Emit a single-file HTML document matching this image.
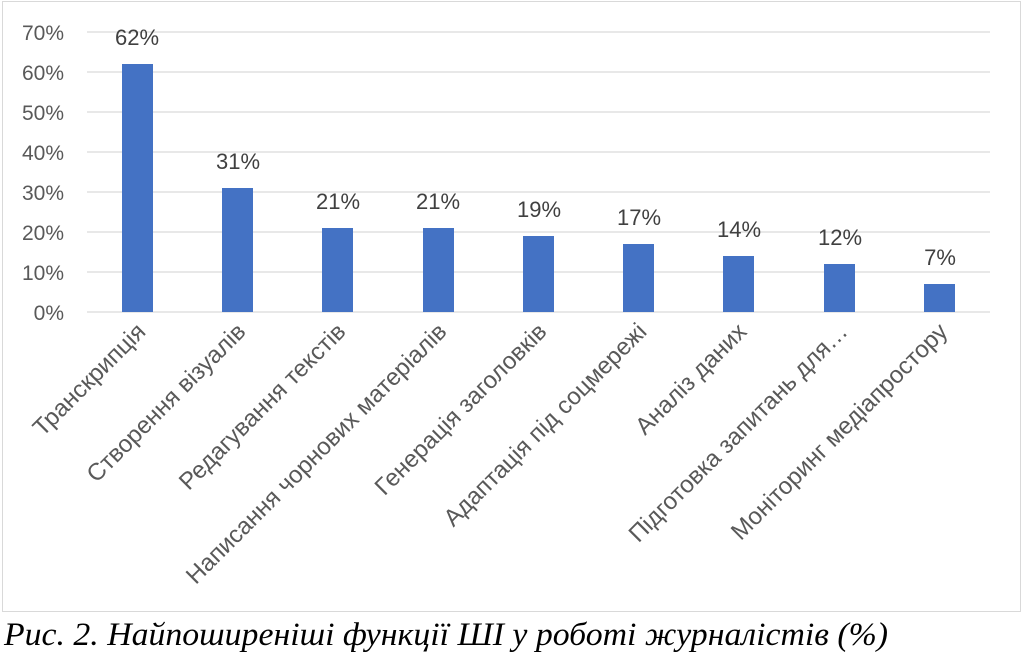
<!DOCTYPE html>
<html><head><meta charset="utf-8"><style>
html,body{margin:0;padding:0;background:#fff;width:1025px;height:656px;overflow:hidden}
</style></head><body>
<svg width="1025" height="656" xmlns="http://www.w3.org/2000/svg" style="display:block">
<rect x="2.5" y="1.5" width="1018" height="610" fill="#fff" stroke="#d9d9d9" stroke-width="1"/>
<g stroke="#d9d9d9" stroke-width="1.3">
<line x1="87" x2="990" y1="32" y2="32"/><line x1="87" x2="990" y1="72" y2="72"/>
<line x1="87" x2="990" y1="112" y2="112"/><line x1="87" x2="990" y1="152" y2="152"/>
<line x1="87" x2="990" y1="192" y2="192"/><line x1="87" x2="990" y1="232" y2="232"/>
<line x1="87" x2="990" y1="272" y2="272"/><line x1="87" x2="990" y1="312" y2="312"/>
</g>
<g font-family="Liberation Sans, DejaVu Sans, sans-serif" font-size="21" fill="#595959" text-anchor="end">
<text x="64" y="40">70%</text><text x="64" y="80">60%</text><text x="64" y="120">50%</text>
<text x="64" y="160">40%</text><text x="64" y="200">30%</text><text x="64" y="240">20%</text>
<text x="64" y="280">10%</text><text x="64" y="320">0%</text>
</g>
<g fill="#4472c4">
<rect x="122" y="64" width="31" height="248"/>
<rect x="222" y="188" width="31" height="124"/>
<rect x="322" y="228" width="31" height="84"/>
<rect x="423" y="228" width="31" height="84"/>
<rect x="523" y="236" width="31" height="76"/>
<rect x="623" y="244" width="31" height="68"/>
<rect x="723" y="256" width="31" height="56"/>
<rect x="824" y="264" width="31" height="48"/>
<rect x="924" y="284" width="31" height="28"/>
</g>
<g font-family="Liberation Sans, DejaVu Sans, sans-serif" font-size="22" fill="#404040" text-anchor="middle">
<text x="137" y="45">62%</text><text x="238" y="169">31%</text><text x="338" y="209">21%</text>
<text x="438" y="209">21%</text><text x="539" y="217">19%</text><text x="639" y="225">17%</text>
<text x="739" y="237">14%</text><text x="840" y="245">12%</text><text x="940" y="265">7%</text>
</g>
<g font-family="Liberation Sans, DejaVu Sans, sans-serif" font-size="24" fill="#595959" text-anchor="end">
<text transform="translate(147,333) rotate(-45)">Транскрипція</text>
<text transform="translate(247,333) rotate(-45)">Створення візуалів</text>
<text transform="translate(347,333) rotate(-45)">Редагування текстів</text>
<text transform="translate(448,333) rotate(-45)">Написання чорнових матеріалів</text>
<text transform="translate(548,333) rotate(-45)">Генерація заголовків</text>
<text transform="translate(648,333) rotate(-45)">Адаптація під соцмережі</text>
<text transform="translate(748,333) rotate(-45)">Аналіз даних</text>
<text transform="translate(849,333) rotate(-45)">Підготовка запитань для…</text>
<text transform="translate(949,333) rotate(-45)">Моніторинг медіапростору</text>
</g>
<text x="4" y="645" font-family="Liberation Serif, DejaVu Serif, serif" font-style="italic" font-size="33" fill="#000" textLength="884" lengthAdjust="spacingAndGlyphs">Рис. 2. Найпоширеніші функції ШІ у роботі журналістів (%)</text>
</svg>
</body></html>
